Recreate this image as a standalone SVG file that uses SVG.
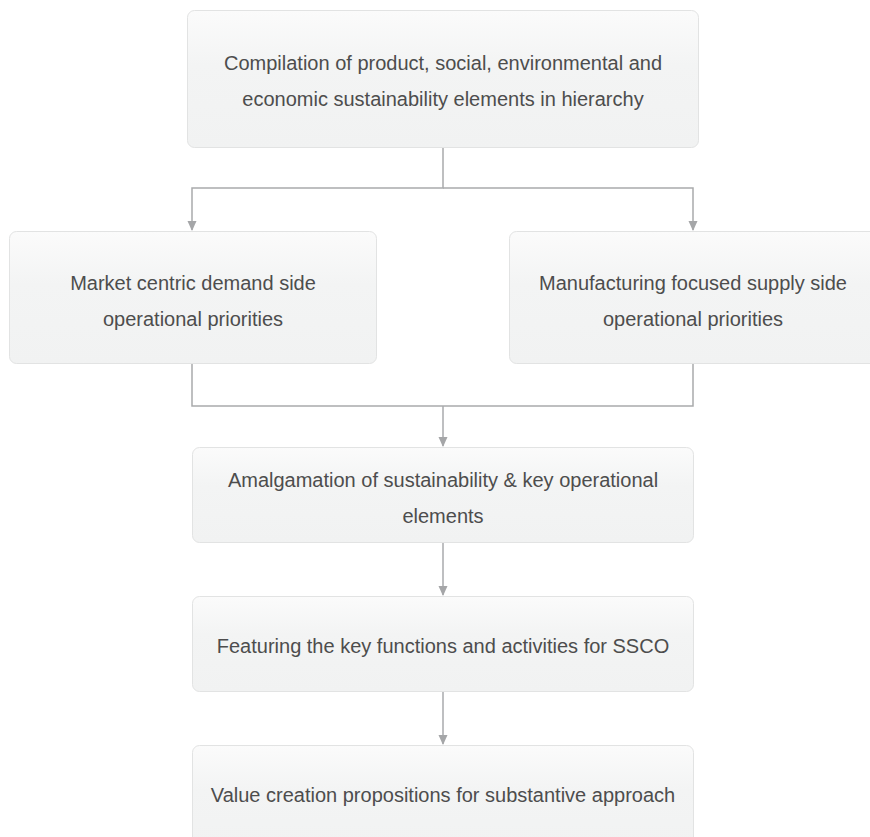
<svg xmlns="http://www.w3.org/2000/svg" width="870" height="837" viewBox="0 0 870 837">
<defs>
<linearGradient id="g" x1="0" y1="0" x2="0" y2="1">
<stop offset="0" stop-color="#fbfbfb"/>
<stop offset="0.4" stop-color="#f3f4f4"/>
<stop offset="1" stop-color="#f1f2f2"/>
</linearGradient>
<marker id="ah" markerWidth="10" markerHeight="10" refX="9" refY="5" orient="auto" markerUnits="userSpaceOnUse">
<path d="M0,0.5 L10,5 L0,9.5 Z" fill="#a5a6a8"/>
</marker>
<style>
.box{fill:url(#g);stroke:#e2e3e3;stroke-width:1}
.t{font-family:"Liberation Sans",Arial,sans-serif;font-size:20px;fill:#4d4d4d;text-anchor:middle}
.c{fill:none;stroke:#a9aaac;stroke-width:1.5}
</style>
</defs>
<rect width="870" height="837" fill="#ffffff"/>
<g id="connectors">
<path class="c" d="M443,148 V188 H192 V230" marker-end="url(#ah)"/>
<path class="c" d="M443,188 H693 V230" marker-end="url(#ah)"/>
<path class="c" d="M192,364 V406 H693 V364"/>
<path class="c" d="M443,406 V446" marker-end="url(#ah)"/>
<path class="c" d="M443,543 V595" marker-end="url(#ah)"/>
<path class="c" d="M443,692 V744" marker-end="url(#ah)"/>
</g>
<g id="n1">
<rect class="box" x="187.5" y="10.5" width="511" height="137" rx="7"/>
<text class="t" x="443" y="70">Compilation of product, social, environmental and</text>
<text class="t" x="443" y="106">economic sustainability elements in hierarchy</text>
</g>
<g id="n2">
<rect class="box" x="9.5" y="231.5" width="367" height="132" rx="7"/>
<text class="t" x="193" y="290">Market centric demand side</text>
<text class="t" x="193" y="326">operational priorities</text>
</g>
<g id="n3">
<rect class="box" x="509.5" y="231.5" width="380" height="132" rx="7"/>
<text class="t" x="693" y="290">Manufacturing focused supply side</text>
<text class="t" x="693" y="326">operational priorities</text>
</g>
<g id="n4">
<rect class="box" x="192.5" y="447.5" width="501" height="95" rx="7"/>
<text class="t" x="443" y="487">Amalgamation of sustainability &amp; key operational</text>
<text class="t" x="443" y="523">elements</text>
</g>
<g id="n5">
<rect class="box" x="192.5" y="596.5" width="501" height="95" rx="7"/>
<text class="t" x="443" y="653">Featuring the key functions and activities for SSCO</text>
</g>
<g id="n6">
<rect class="box" x="192.5" y="745.5" width="501" height="110" rx="7"/>
<text class="t" x="443" y="802">Value creation propositions for substantive approach</text>
</g>
</svg>
